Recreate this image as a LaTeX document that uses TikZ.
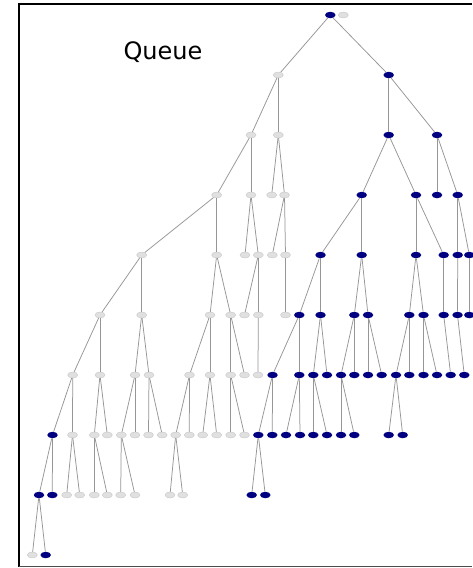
\documentclass[tikz,border=0pt]{standalone}
\usepackage{fontspec}
\setmainfont{DejaVu Sans}
\usetikzlibrary{shapes.geometric}
\definecolor{navyb}{RGB}{0,0,128}
\definecolor{lgfill}{RGB}{224,224,224}
\definecolor{lgline}{RGB}{200,200,200}
\definecolor{edgec}{RGB}{150,150,150}
\tikzset{
  bn/.style={ellipse, fill=navyb, minimum width=10.5pt, minimum height=6.5pt, inner sep=0pt},
  gn/.style={ellipse, fill=lgfill, draw=lgline, line width=0.4pt, minimum width=10pt, minimum height=6pt, inner sep=0pt},
  edge/.style={draw=edgec, line width=0.75pt},
  frame/.style={line width=1.3pt, draw=black}
}
\begin{document}
\begin{tikzpicture}[x=1pt,y=-1pt]
\useasboundingbox (0,0) rectangle (472,568);
\fill[white] (0,0) rectangle (472,568);
\draw[frame] (472,4) -- (19,4) -- (19,566.5);
\draw[line width=1pt, draw=black!70] (19,566.5) -- (472,566.5);
\node[anchor=base, font=\fontsize{24}{28}\selectfont] (title) at (163,59) {Queue};
% grey nodes
\foreach \n/\x/\y in {g0/343.3/15, a/278.3/75, aa/251/135, ab/278.3/135,
  aaa/216.7/195, aab/251/195, aba/271.7/195, abb/284.5/195,
  aaaa/141.7/255, aaab/216.7/255, aaba/245/255, aabb/258.3/255, abba/272.3/255, abbb/285.5/255,
  n5a/100/315, n5b/141.7/315, n5c/210/315, n5d/230.7/315, n5e/244.5/315, n5f/258.3/315, n5g/285.5/315,
  p6a/72.7/375, p6b/100/375, p6c/135/375, p6d/149/375, p6e/189.5/375, p6f/210/375, p6g/230.7/375, p6h/244.5/375, p6i/258/375,
  t7a/72.5/435, t7b/94.3/435, t7c/107.3/435, t7d/121.3/435, t7e/135/435, t7f/148.5/435, t7g/162.2/435, t7h/175.7/435, t7i/189.3/435, t7j/202.7/435, t7k/216.7/435, t7l/230.7/435, t7m/244.5/435,
  w8a/66.7/495, w8b/79.7/495, w8c/94.3/495, w8d/107.3/495, w8e/120.7/495, w8f/135/495, w8g/170/495, w8h/182.7/495,
  y9a/32.3/555}
  \node[gn] (\n) at (\x,\y) {};
% blue nodes
\foreach \n/\x/\y in {r/330.3/15, b/388.7/75, ba/388.7/135, bb/437/135,
  baa/361.7/195, bab/416/195, bba/437/195, bbb/457.7/195,
  baaa/320.5/255, baab/361.7/255, baba/416/255, babb/443.7/255, bbba/457.7/255, bbbb/469.3/255,
  m5a/299.3/315, m5b/320.5/315, m5c/354.3/315, m5d/368/315, m5e/409.3/315, m5f/423.5/315, m5g/443.7/315, m5h/457.5/315, m5i/469.3/315,
  q6a/272.5/375, q6b/299.3/375, q6c/313.3/375, q6d/327/375, q6e/341/375, q6f/354.3/375, q6g/368/375, q6h/381.7/375, q6i/396/375, q6j/409.3/375, q6k/423.5/375, q6l/437/375, q6m/450.7/375, q6n/464.3/375,
  s7a/52.5/435, u7a/258.3/435, u7b/272.3/435, u7c/286/435, u7d/300/435, u7e/313.3/435, u7f/327/435, u7g/341/435, u7h/354.3/435, u7i/388.7/435, u7j/402.7/435,
  v8a/39/495, v8b/52.3/495, x8a/251.7/495, x8b/265.3/495,
  y9b/45.7/555}
  \node[bn] (\n) at (\x,\y) {};
% edges
\foreach \p/\c in {r/a, r/b, a/aa, a/ab, b/ba, b/bb,
  aa/aaa, aa/aab, ab/aba, ab/abb, ba/baa, ba/bab, bb/bba, bb/bbb,
  aaa/aaaa, aaa/aaab, aab/aaba, aab/aabb, abb/abba, abb/abbb,
  baa/baaa, baa/baab, bab/baba, bab/babb, bbb/bbba, bbb/bbbb,
  aaaa/n5a, aaaa/n5b, aaab/n5c, aaab/n5d, aabb/n5e, aabb/n5f, abbb/n5g,
  baaa/m5a, baaa/m5b, baab/m5c, baab/m5d, baba/m5e, baba/m5f, babb/m5g, bbba/m5h, bbbb/m5i,
  n5a/p6a, n5a/p6b, n5b/p6c, n5b/p6d, n5c/p6e, n5c/p6f, n5d/p6g, n5d/p6h, n5f/p6i,
  m5a/q6a, m5a/q6b, m5b/q6c, m5b/q6d, m5c/q6e, m5c/q6f, m5d/q6g, m5d/q6h, m5e/q6i, m5e/q6j, m5f/q6k, m5f/q6l, m5g/q6m, m5h/q6n,
  p6a/s7a, p6a/t7a, p6b/t7b, p6b/t7c, p6c/t7d, p6c/t7e, p6d/t7f, p6d/t7g, p6e/t7h, p6e/t7i, p6f/t7j, p6f/t7k, p6g/t7l, p6g/t7m,
  q6a/u7a, q6a/u7b, q6b/u7c, q6b/u7d, q6c/u7e, q6c/u7f, q6e/u7g, q6e/u7h, q6i/u7i, q6i/u7j,
  s7a/v8a, s7a/v8b, t7a/w8a, t7a/w8b, t7b/w8c, t7b/w8d, t7d/w8e, t7d/w8f, t7h/w8g, t7h/w8h,
  u7a/x8a, u7a/x8b, v8a/y9a, v8a/y9b}
  \draw[edge] (\p) -- (\c);
\end{tikzpicture}
\end{document}
